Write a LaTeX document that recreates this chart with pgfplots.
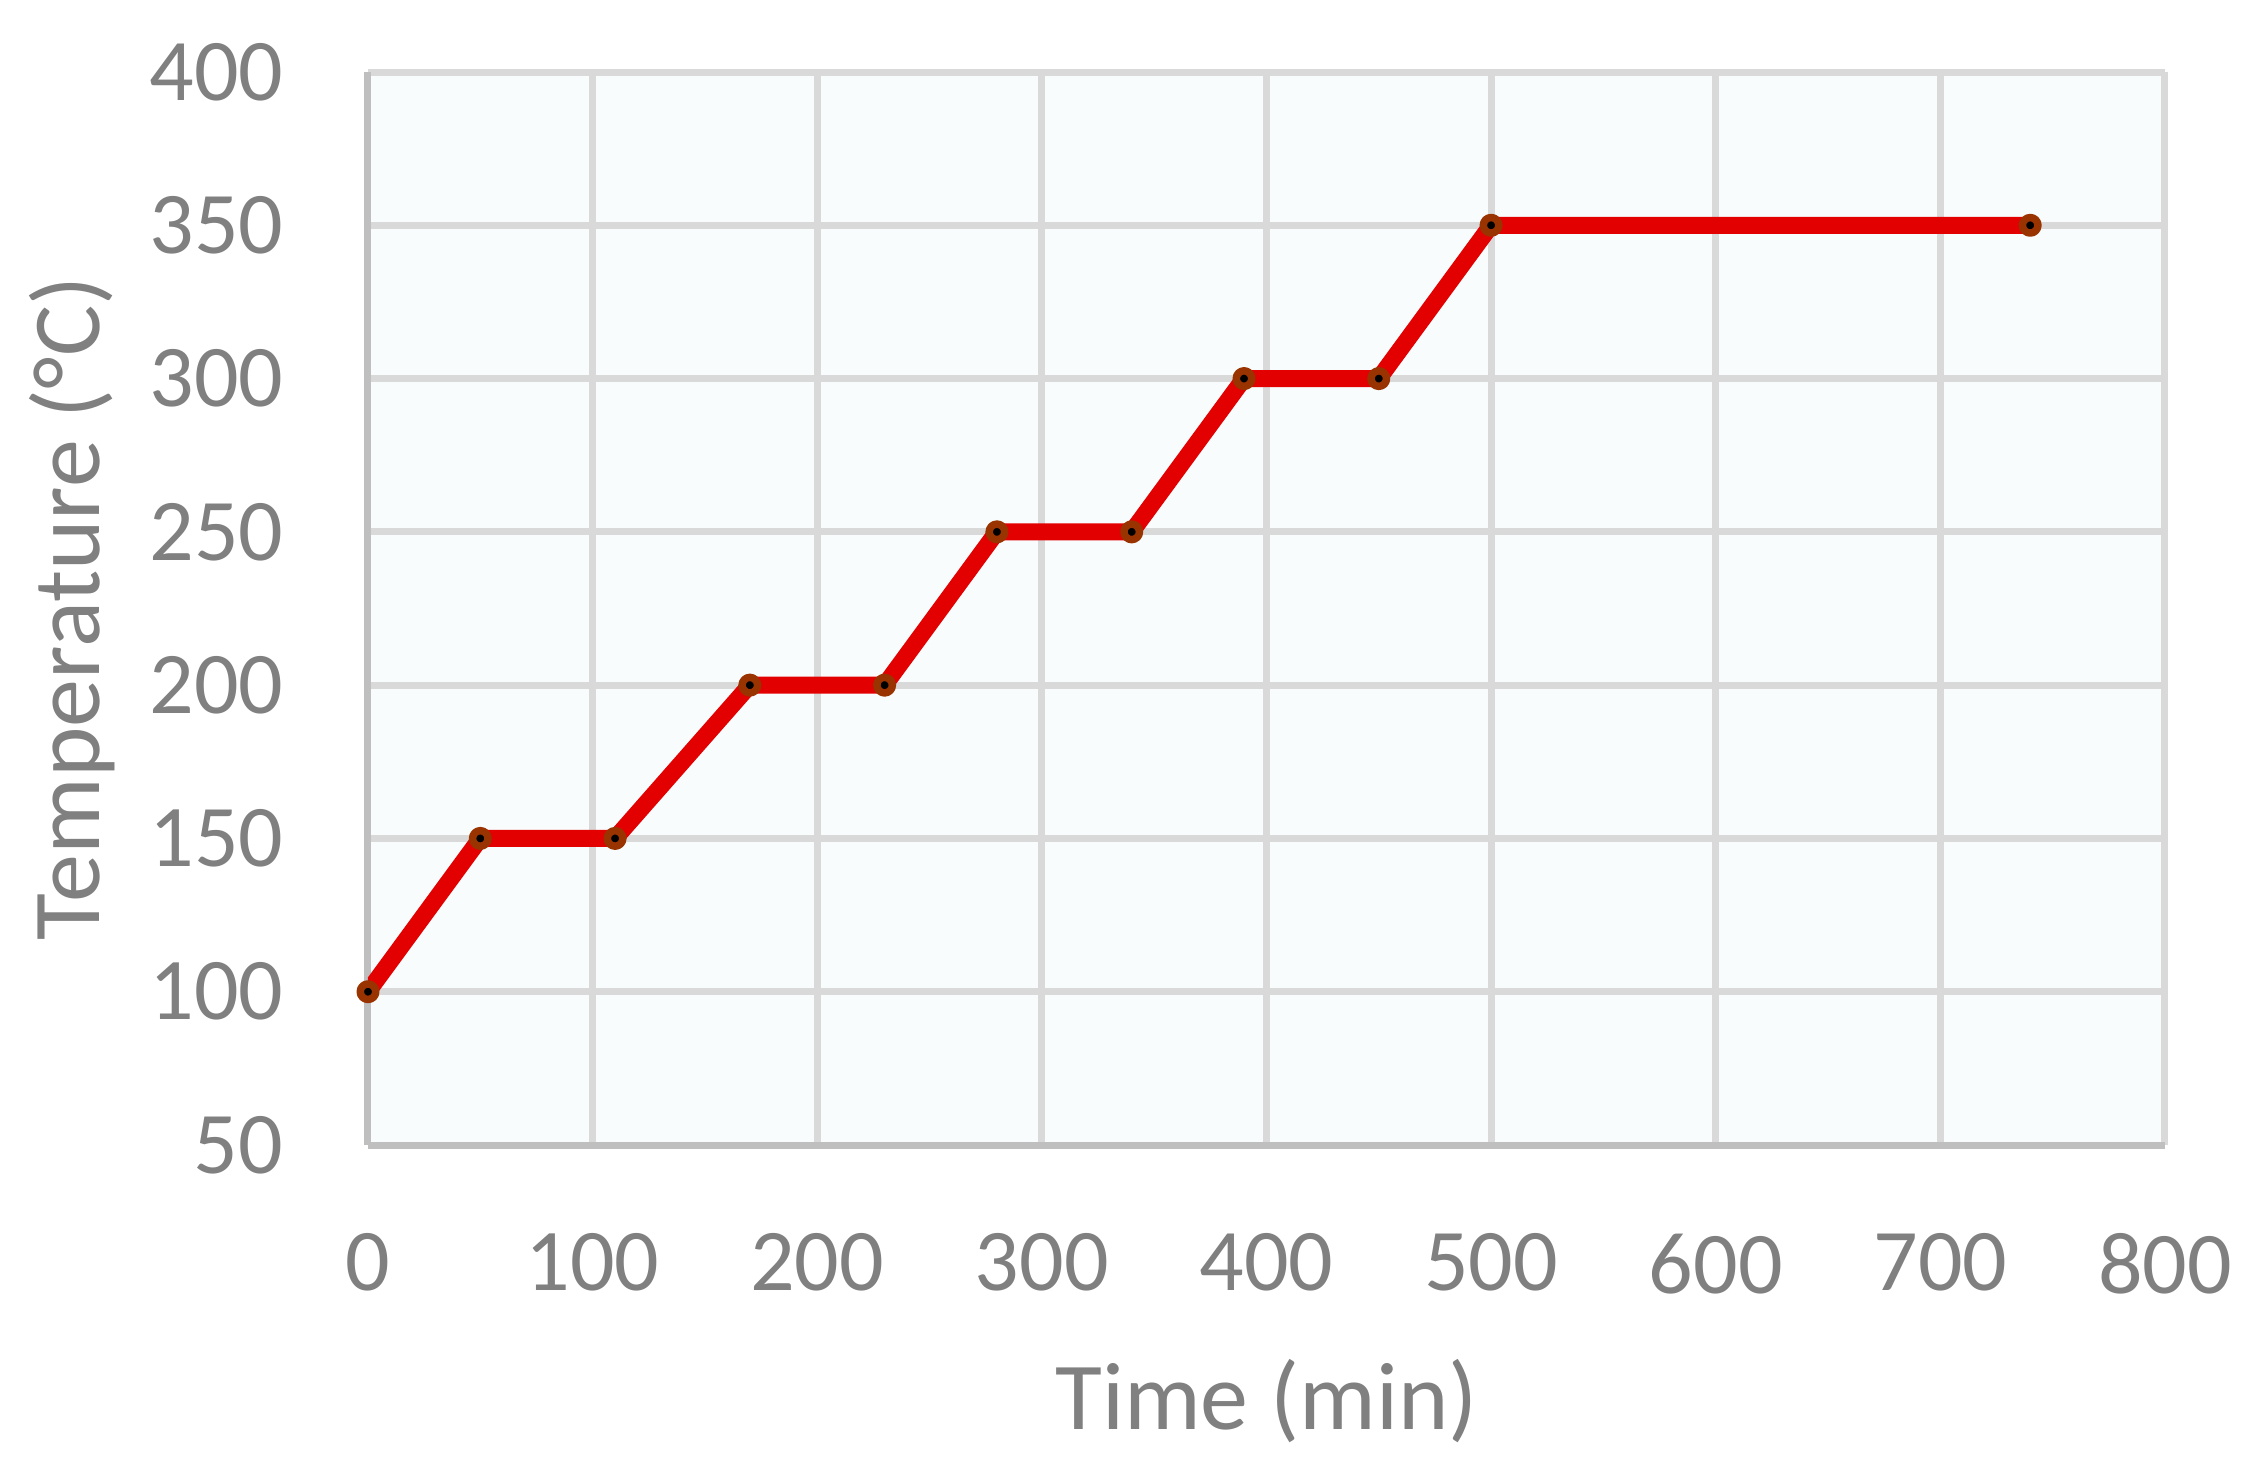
\documentclass[border=0pt]{standalone}
\usepackage{fontspec}
\setmainfont{Carlito}
\usepackage{pgfplots}
\pgfplotsset{compat=1.18}
\definecolor{txtgray}{RGB}{128,128,128}
\definecolor{gridgray}{RGB}{217,217,217}
\definecolor{axgray}{RGB}{191,191,191}
\definecolor{bgblue}{RGB}{248,252,253}
\definecolor{linered}{RGB}{226,0,0}
\definecolor{markbrown}{RGB}{153,51,0}

\begin{document}
\begin{tikzpicture}
    % picture frame: 2253 x 1469 px at 0.25pt per px
    \path[use as bounding box] (-92pt, -81pt) rectangle (471.25pt, 286.25pt);
    \begin{axis}[
        at={(0,0)}, anchor=south west,
        scale only axis, width=449.25pt, height=268.25pt,
        xmin=0, xmax=800, ymin=50, ymax=400,
        xtick={0,100,...,800}, ytick={50,100,...,400},
        axis lines*=left, axis line style={axgray, line width=1.75pt, -},
        grid=major, grid style={gridgray, line width=1.75pt},
        major tick length=0pt,
        axis background/.style={fill=bgblue},
        /pgf/number format/assume math mode=true,
        tick label style={font=\fontsize{22}{26}\selectfont, text=txtgray, inner sep=0pt},
        yticklabel style={anchor=east, xshift=-21pt},
        xticklabel style={anchor=north, yshift=-22pt},
        xlabel={Time (min)}, ylabel={Temperature (°C)},
        label style={font=\fontsize{24}{28}\selectfont, text=txtgray, inner sep=0pt},
        xlabel style={at={([yshift=-64pt]axis description cs:0.5,0)}, anchor=center},
        ylabel style={at={([xshift=-74pt]axis description cs:0,0.5)}, anchor=center},
    ]
        \addplot[linered, line width=4.25pt, line join=round,
            mark=*, mark size=1.94pt,
            mark options={fill=black, draw=markbrown, line width=1.875pt}]
            coordinates {
            (0,100) (50,150) (110,150) (170,200) (230,200) (280,250)
            (340,250) (390,300) (450,300) (500,350) (740,350)};
    \end{axis}
\end{tikzpicture}
\end{document}
